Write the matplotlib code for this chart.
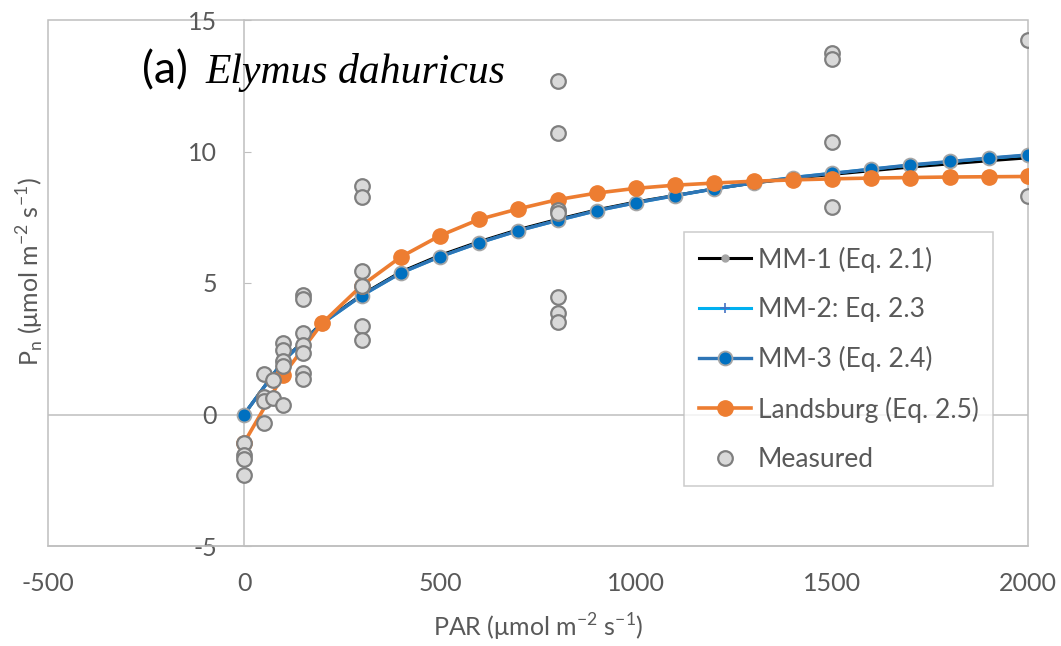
import matplotlib
matplotlib.use("Agg")
import matplotlib.pyplot as plt
from matplotlib.patches import Rectangle

plt.rcParams['font.family'] = ['Lato', 'DejaVu Sans']
plt.rcParams['mathtext.fontset'] = 'custom'
plt.rcParams['mathtext.rm'] = 'Lato'
plt.rcParams['axes.unicode_minus'] = False

# ---- data ----
par_model = [0, 100, 200, 300, 400, 500, 600, 700, 800, 900, 1000,
             1100, 1200, 1300, 1400, 1500, 1600, 1700, 1800, 1900, 2000]
mm1 = [0.0, 2.05, 3.5, 4.55, 5.42, 6.05, 6.57, 7.03, 7.42, 7.78, 8.08,
       8.33, 8.58, 8.8, 8.98, 9.13, 9.27, 9.41, 9.53, 9.65, 9.76]
mm2 = [0.0, 2.03, 3.47, 4.52, 5.38, 6.0, 6.53, 6.99, 7.38, 7.75, 8.05,
       8.32, 8.58, 8.81, 9.01, 9.17, 9.33, 9.48, 9.61, 9.74, 9.86]
mm3 = [0.0, 2.03, 3.47, 4.52, 5.38, 6.0, 6.53, 6.99, 7.38, 7.75, 8.05,
       8.32, 8.58, 8.81, 9.01, 9.17, 9.33, 9.49, 9.62, 9.75, 9.87]
landsburg = [-1.08, 1.5, 3.48, 4.9, 5.99, 6.8, 7.42, 7.82, 8.17, 8.42, 8.6,
             8.72, 8.8, 8.87, 8.92, 8.96, 8.99, 9.01, 9.03, 9.04, 9.05]

meas_par = [0, 0, 0, 0,
            50, 50, 50, 50,
            75, 75,
            100, 100, 100, 100, 100,
            150, 150, 150, 150, 150, 150, 150,
            300, 300, 300, 300, 300, 300,
            800, 800, 800, 800, 800, 800, 800,
            1500, 1500, 1500, 1500,
            2000, 2000]
meas_pn = [-1.1, -1.55, -1.7, -2.3,
           1.55, 0.65, 0.5, -0.32,
           1.3, 0.63,
           2.72, 2.45, 2.05, 1.84, 0.38,
           4.55, 4.38, 3.1, 2.64, 2.32, 1.58, 1.35,
           8.69, 8.27, 5.46, 4.89, 3.37, 2.82,
           12.67, 10.72, 7.77, 7.66, 4.45, 3.86, 3.53,
           13.75, 13.52, 10.36, 7.89,
           14.24, 8.31]

x_ticks = [-500, 0, 500, 1000, 1500, 2000]
y_ticks = [-5, 0, 5, 10, 15]

# ---- figure ----
W, H = 1061, 646
fig = plt.figure(figsize=(W / 100, H / 100), dpi=100)
ax = fig.add_axes([48 / W, 1 - 546 / H, 980 / W, 526 / H])

grey = '#BFBFBF'
txt = '#595959'

ax.set_xlim(-500, 2000)
ax.set_ylim(-5, 15)
ax.set_xticks(x_ticks)
ax.set_yticks(y_ticks)

for s in ['top', 'right']:
    ax.spines[s].set_visible(False)
ax.spines['bottom'].set_color(grey)
ax.spines['bottom'].set_linewidth(1.1)
ax.spines['left'].set_position(('data', 0))
ax.spines['left'].set_color(grey)
ax.spines['left'].set_linewidth(1.1)
ax.add_patch(Rectangle((0, 0), 1, 1, transform=ax.transAxes, fill=False,
                       edgecolor=grey, linewidth=1.1, clip_on=False, zorder=0))
ax.axhline(0, color=grey, linewidth=1.1, zorder=0.5)

ax.tick_params(axis='x', length=0, pad=19, labelsize=18, labelcolor=txt)
ax.tick_params(axis='y', length=5, direction='in', color=grey, pad=19.5,
               labelsize=18, labelcolor=txt)

ax.plot(par_model, mm1, color='black', linewidth=2.2, marker='o', markersize=5,
        markerfacecolor='#A5A5A5', markeredgecolor='#A5A5A5',
        label='MM-1 (Eq. 2.1)', zorder=3)
ax.plot(par_model, mm2, color='#00B0F0', linewidth=2.2, marker='+', markersize=7,
        markeredgecolor='#4472C4', markeredgewidth=1.2,
        label='MM-2: Eq. 2.3', zorder=3.1)
ax.plot(par_model, mm3, color='#2E75B6', linewidth=2.4, marker='o', markersize=10,
        markerfacecolor='#0070C0', markeredgecolor='#A5A5A5', markeredgewidth=1.3,
        label='MM-3 (Eq. 2.4)', zorder=3.2)
ax.plot(par_model, landsburg, color='#ED7D31', linewidth=2.6, marker='o',
        markersize=11, markerfacecolor='#ED7D31', markeredgecolor='#ED7D31',
        label='Landsburg (Eq. 2.5)', zorder=3.3)
ax.plot(meas_par, meas_pn, linestyle='none', marker='o', markersize=10.5,
        markerfacecolor='#D9D9D9', markeredgecolor='#7F7F7F', markeredgewidth=1.6,
        label='Measured', zorder=4)

leg = ax.legend(loc='upper left', bbox_to_anchor=((684 - 48) / 980, (546 - 232) / 526),
                fontsize=19, frameon=True, fancybox=False, edgecolor=grey,
                borderpad=0.55, labelspacing=0.92, handlelength=2.0,
                handletextpad=0.25, borderaxespad=0)
leg.get_frame().set_linewidth(1.1)
for t in leg.get_texts():
    t.set_color(txt)

ax.set_xlabel('PAR (μmol m$^\\mathregular{-2}$ s$^\\mathregular{-1}$)', fontsize=18,
              color=txt, labelpad=12)
fig.text(30 / W, 1 - 272 / H,
         'P$_\\mathregular{n}$ (μmol m$^\\mathregular{-2}$ s$^\\mathregular{-1}$)',
         rotation=90, ha='center', va='center', fontsize=18, color=txt)

fig.text(142 / W, 1 - 83 / H, '(a)', fontsize=32, color='black',
         ha='left', va='baseline')
fig.text(205 / W, 1 - 83 / H, 'Elymus dahuricus', fontsize=30, color='black',
         family='Liberation Serif', style='italic', ha='left', va='baseline')

fig.savefig('out.png', dpi=100)
